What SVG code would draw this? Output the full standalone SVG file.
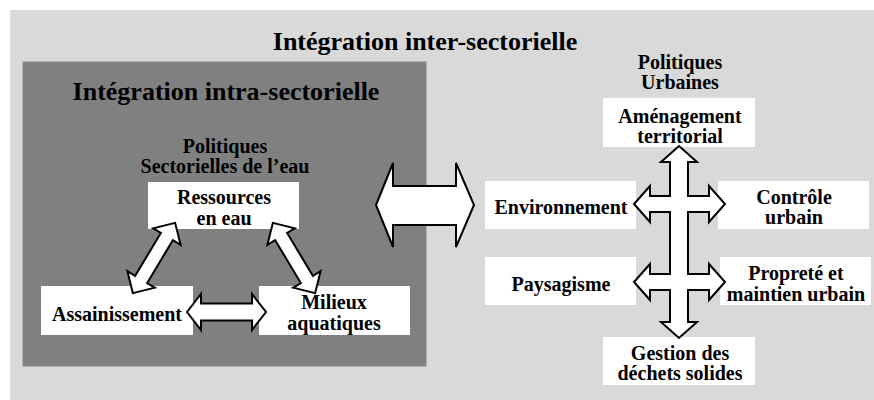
<svg xmlns="http://www.w3.org/2000/svg" width="874" height="400" viewBox="0 0 874 400" font-family="'Liberation Serif', 'Times New Roman', Times, 'DejaVu Serif', serif" font-weight="bold">
<style>
text{fill:#000;text-anchor:middle}
.t{font-size:26px}
.l{font-size:20px}
.n{font-size:20px}
.box{fill:#fff}
.arr{fill:#fff;stroke:#000;stroke-width:2;stroke-linejoin:miter}
</style>
<defs>
<polygon id="dbl" class="arr" points="-41,0 -25,-16 -25,-7 25,-7 25,-16 41,0 25,16 25,7 -25,7 -25,16"/>
</defs>
<rect x="10" y="10" width="864" height="390" fill="#d9d9d9"/>
<text class="t" x="425" y="50">Intégration inter-sectorielle</text>
<g id="intra">
<rect x="23" y="62" width="403" height="304" fill="#808080" stroke="#8a8a8a" stroke-width="1"/>
<text class="t" x="226" y="100">Intégration intra-sectorielle</text>
<text class="l" x="225" y="153">Politiques</text>
<text class="l" x="225" y="173">Sectorielles de l’eau</text>
</g>
<g id="ressources"><rect class="box" x="148" y="182" width="151" height="47"/><text class="n" x="224" y="204">Ressources</text><text class="n" x="224" y="225">en eau</text></g>
<g id="assainissement"><rect class="box" x="41" y="286" width="152" height="49"/><text class="n" x="117" y="321">Assainissement</text></g>
<g id="milieux"><rect class="box" x="259" y="286" width="151" height="49"/><text class="n" x="334" y="309">Milieux</text><text class="n" x="334" y="330">aquatiques</text></g>
<g id="politiques-urbaines"><text class="l" x="680" y="69">Politiques</text><text class="l" x="680" y="89">Urbaines</text></g>
<g id="amenagement"><rect class="box" x="603" y="98" width="152" height="49"/><text class="n" x="680" y="123">Aménagement</text><text class="n" x="680" y="143">territorial</text></g>
<g id="environnement"><rect class="box" x="485" y="181" width="151" height="48"/><text class="n" x="561" y="214">Environnement</text></g>
<g id="controle"><rect class="box" x="718" y="181" width="151" height="48"/><text class="n" x="794" y="204">Contrôle</text><text class="n" x="794" y="224">urbain</text></g>
<g id="paysagisme"><rect class="box" x="485" y="257" width="151" height="48"/><text class="n" x="561" y="291">Paysagisme</text></g>
<g id="proprete"><rect class="box" x="720" y="257" width="151" height="48"/><text class="n" x="796" y="280">Propreté et</text><text class="n" x="796" y="301">maintien urbain</text></g>
<g id="gestion"><rect class="box" x="603" y="337" width="152" height="48"/><text class="n" x="680" y="360">Gestion des</text><text class="n" x="680" y="380">déchets solides</text></g>
<g id="connectors">
<polygon class="arr" points="187,312 201,294 201,303.5 252,303.5 252,294 266,312 252,330 252,320.5 201,320.5 201,330"/>
<use href="#dbl" transform="translate(154,258) rotate(-59)"/>
<use href="#dbl" transform="translate(294,258) rotate(59)"/>
<polygon class="arr" points="376,205 393,163 393,186 456,186 456,163 474,205 456,247 456,225 393,225 393,247"/>
<polygon class="arr" points="679,146 697,162 688,162 688,196 709,196 709,186 725,204 709,222 709,212 688,212 688,274 709,274 709,264 725,282 709,300 709,290 688,290 688,322 697,322 679,338 661,322 670,322 670,290 650,290 650,300 634,282 650,264 650,274 670,274 670,212 650,212 650,222 634,204 650,186 650,196 670,196 670,162 661,162"/>
</g>
</svg>
